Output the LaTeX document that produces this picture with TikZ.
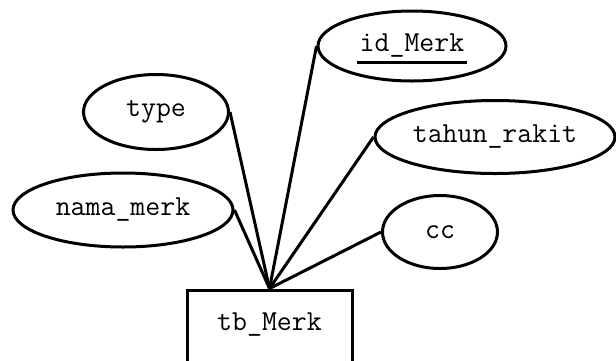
\documentclass[tikz,border=0pt]{standalone}
\usetikzlibrary{shapes.geometric}
\begin{document}
\begin{tikzpicture}[x=1pt,y=-1pt,
  lbl/.style={font=\ttfamily\fontsize{29}{29}\selectfont},
  attr/.style={draw,ellipse,line width=3pt,inner sep=0pt,lbl},
  ent/.style={draw,rectangle,line width=3pt,inner sep=0pt},
  link/.style={line width=3pt}]
\useasboundingbox (0,0) rectangle (616,360);
\fill[white] (0,0) rectangle (616,360);
\node[attr,minimum width=188pt,minimum height=70pt] (idm) at (412,46) {id\_Merk};
\draw[line width=3pt] (357,62) -- (467,62);
\node[attr,minimum width=240pt,minimum height=73pt] (tahun) at (495,137) {tahun\_rakit};
\node[attr,minimum width=145pt,minimum height=75pt] (type) at (156,112) {type};
\node[attr,minimum width=220pt,minimum height=74pt] (nama) at (123,210) {nama\_merk};
\node[attr,minimum width=115pt,minimum height=73pt] (cc) at (440,232) {cc};
\node[ent,minimum width=165pt,minimum height=80pt] (box) at (269.5,330) {};
\node[lbl] (boxlbl) at (269.5,325) {tb\_Merk};
\draw[link] (type.east) -- (box.north);
\draw[link] (nama.east) -- (box.north);
\draw[link] (idm.west) -- (box.north);
\draw[link] (tahun.west) -- (box.north);
\draw[link] (cc.west) -- (box.north);
\end{tikzpicture}
\end{document}
